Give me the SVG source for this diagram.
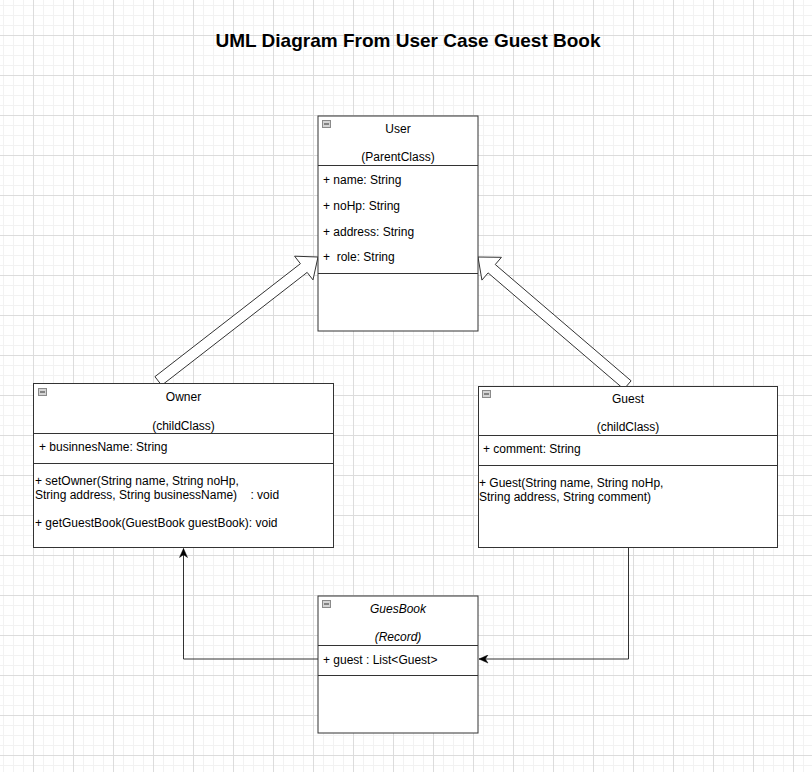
<svg xmlns="http://www.w3.org/2000/svg" width="812" height="772" viewBox="0 0 812 772">
<style>
  text { font-family: "Liberation Sans", Arial, sans-serif; font-size: 12px; fill: #000; }
  .title { font-size: 19px; font-weight: bold; }
  .c { text-anchor: middle; }
  .it { font-style: italic; }
  .box { fill: #ffffff; stroke: #333333; stroke-width: 1; }
  .div { stroke: #333333; stroke-width: 1; fill: none; }
  .conn { fill: none; stroke: #333333; stroke-width: 1; }
  .flex { fill: #ffffff; stroke: #333333; stroke-width: 1; stroke-linejoin: miter; }
  .ico { fill: #d4d4d4; stroke: #8a8a8a; stroke-width: 1; }
  .icoline { stroke: #333333; stroke-width: 1; }
</style>
<defs>
  <pattern id="grid" x="33" y="35" width="40" height="40" patternUnits="userSpaceOnUse">
    <rect x="10" y="0" width="1" height="40" fill="#f2f2f2"/>
    <rect x="20" y="0" width="1" height="40" fill="#f2f2f2"/>
    <rect x="30" y="0" width="1" height="40" fill="#f2f2f2"/>
    <rect x="0" y="10" width="40" height="1" fill="#f2f2f2"/>
    <rect x="0" y="20" width="40" height="1" fill="#f2f2f2"/>
    <rect x="0" y="30" width="40" height="1" fill="#f2f2f2"/>
    <rect x="0" y="0" width="1" height="40" fill="#dcdcdc"/>
    <rect x="0" y="0" width="40" height="1" fill="#dcdcdc"/>
  </pattern>
  <marker id="arr" viewBox="0 0 10 10" refX="10" refY="5" markerWidth="10" markerHeight="9" markerUnits="userSpaceOnUse" orient="auto">
    <path d="M0,0.5 L10,5 L0,9.5 L3,5 z" fill="#000" stroke="#000" stroke-width="0.5"/>
  </marker>
</defs>
<rect x="0" y="0" width="812" height="772" fill="#ffffff"/>
<rect x="0" y="0" width="812" height="772" fill="url(#grid)"/>

<text class="title c" x="408" y="47">UML Diagram From User Case Guest Book</text>

<g id="connectors">
  <polygon id="inherit-owner" class="flex" points="154.93,376.66 300.41,263.70 294.58,256.19 318,257 312.98,279.89 307.15,272.38 161.67,385.34"/>
  <polygon id="inherit-guest" class="flex" points="631.08,380.82 495.25,264.53 501.43,257.32 478,257 481.91,280.10 488.09,272.89 623.92,389.18"/>
  <path id="book-owner" class="conn" d="M318,659 H183.5 V548.5" marker-end="url(#arr)"/>
  <path id="guest-book" class="conn" d="M628.5,547 V659 H479" marker-end="url(#arr)"/>
</g>

<g id="user">
  <rect class="box" x="318" y="116" width="160" height="215"/>
  <line class="div" x1="318" y1="165.5" x2="478" y2="165.5"/>
  <line class="div" x1="318" y1="273.5" x2="478" y2="273.5"/>
  <rect class="ico" x="322.5" y="120.5" width="8" height="7"/>
  <line class="icoline" x1="324" y1="124" x2="329" y2="124"/>
  <text class="c" x="398" y="132.5">User</text>
  <text class="c" x="398" y="161">(ParentClass)</text>
  <text x="323" y="183.5">+ name: String</text>
  <text x="323" y="209.5">+ noHp: String</text>
  <text x="323" y="235.5">+ address: String</text>
  <text x="323" y="261" xml:space="preserve">+  role: String</text>
</g>

<g id="owner">
  <rect class="box" x="33.5" y="383.5" width="300" height="164"/>
  <line class="div" x1="33.5" y1="433.5" x2="333.5" y2="433.5"/>
  <line class="div" x1="33.5" y1="463.5" x2="333.5" y2="463.5"/>
  <rect class="ico" x="38.5" y="388.5" width="8" height="7"/>
  <line class="icoline" x1="40" y1="392" x2="45" y2="392"/>
  <text class="c" x="183.5" y="401">Owner</text>
  <text class="c" x="183.5" y="429.5">(childClass)</text>
  <text x="39" y="451">+ businnesName: String</text>
  <text x="35" y="484.5">+ setOwner(String name, String noHp,</text>
  <text x="35" y="498.5" xml:space="preserve">String address, String businessName)    : void</text>
  <text x="35" y="526.5">+ getGuestBook(GuestBook guestBook): void</text>
</g>

<g id="guest">
  <rect class="box" x="478.5" y="386.5" width="299" height="161"/>
  <line class="div" x1="478.5" y1="435.5" x2="777.5" y2="435.5"/>
  <line class="div" x1="478.5" y1="465.5" x2="777.5" y2="465.5"/>
  <rect class="ico" x="482.5" y="390.5" width="8" height="7"/>
  <line class="icoline" x1="484" y1="394" x2="489" y2="394"/>
  <text class="c" x="628" y="402.5">Guest</text>
  <text class="c" x="628" y="431">(childClass)</text>
  <text x="483" y="452.5">+ comment: String</text>
  <text x="479" y="487">+ Guest(String name, String noHp,</text>
  <text x="479" y="501">String address, String comment)</text>
</g>

<g id="guesbook">
  <rect class="box" x="318" y="596" width="160" height="137"/>
  <line class="div" x1="318" y1="645.5" x2="478" y2="645.5"/>
  <line class="div" x1="318" y1="675.5" x2="478" y2="675.5"/>
  <rect class="ico" x="322.5" y="600.5" width="8" height="7"/>
  <line class="icoline" x1="324" y1="604" x2="329" y2="604"/>
  <text class="c it" x="398" y="612.5">GuesBook</text>
  <text class="c it" x="398" y="641">(Record)</text>
  <text x="323" y="663.5">+ guest : List&lt;Guest&gt;</text>
</g>
</svg>
